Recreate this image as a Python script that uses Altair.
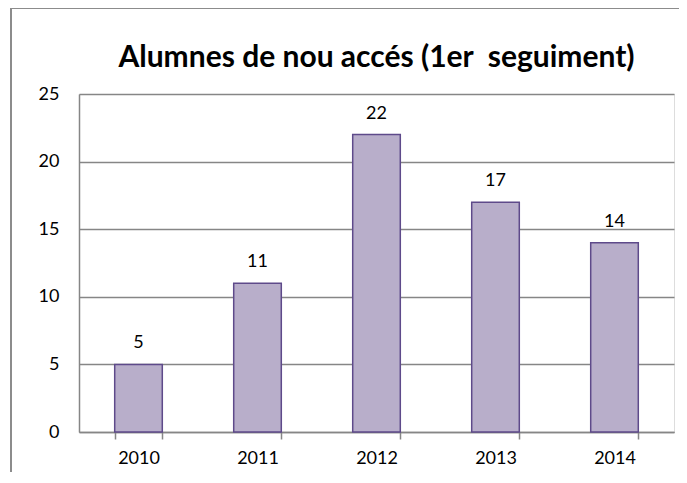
import altair as alt
import pandas as pd

years = ["2010", "2011", "2012", "2013", "2014"]
values = [5, 11, 22, 17, 14]
y_ticks = [0, 5, 10, 15, 20, 25]
title_text = "Alumnes de nou accés (1er\u00a0 seguiment)"

df = pd.DataFrame({"year": years, "value": values})

FONT = "Lato"
FS = 18
W, H = 595, 338

x_enc = alt.X("year:N", title=None, sort=years,
              scale=alt.Scale(paddingInner=0.6, paddingOuter=0.3),
              axis=alt.Axis(labelAngle=0, tickBand="extent", tickSize=7,
                            tickColor="#868686", domainColor="#868686",
                            domainWidth=1.5, tickWidth=1.5,
                            labelPadding=10, labelFontSize=FS,
                            labelFont=FONT, labelColor="#000000"))
y_enc = alt.Y("value:Q", title=None,
              scale=alt.Scale(domain=[0, 25], nice=False),
              axis=alt.Axis(values=y_ticks, tickSize=0, labelPadding=20,
                            gridColor="#868686", gridWidth=1.5,
                            domainColor="#868686", domainWidth=1.5,
                            labelFontSize=FS, labelFont=FONT,
                            labelColor="#000000"))

bars = alt.Chart(df).mark_bar(fill="#B8AECA", stroke="#5E4A8A",
                              strokeWidth=1.5).encode(x=x_enc, y=y_enc)
labels = alt.Chart(df).mark_text(baseline="middle", dy=-21, fontSize=FS,
                                 font=FONT, color="#000000").encode(
    x=alt.X("year:N", sort=years), y="value:Q", text="value:Q")

frame_left = alt.Chart(df).mark_rule(color="#8C8C8C", strokeWidth=1.5).encode(
    x=alt.value(-68), y=alt.value(-86), y2=alt.value(400))
frame_top = alt.Chart(df).mark_rule(color="#8C8C8C", strokeWidth=1.5).encode(
    x=alt.value(-68), x2=alt.value(620), y=alt.value(-86))

chart = alt.layer(frame_left, frame_top, bars, labels).properties(
    width=W, height=H,
    title=alt.TitleParams(title_text, font=FONT, fontSize=30, fontWeight="bold",
                          color="#000000", anchor="middle", offset=-66),
    autosize=alt.AutoSizeParams(type="none"),
    padding={"left": 71, "top": 86, "right": 5, "bottom": 40},
).configure_view(fill="#ECEAF0", stroke=None).configure(background="#FFFFFF")

chart.save("out.html", embed_options={"renderer": "svg", "actions": False})
